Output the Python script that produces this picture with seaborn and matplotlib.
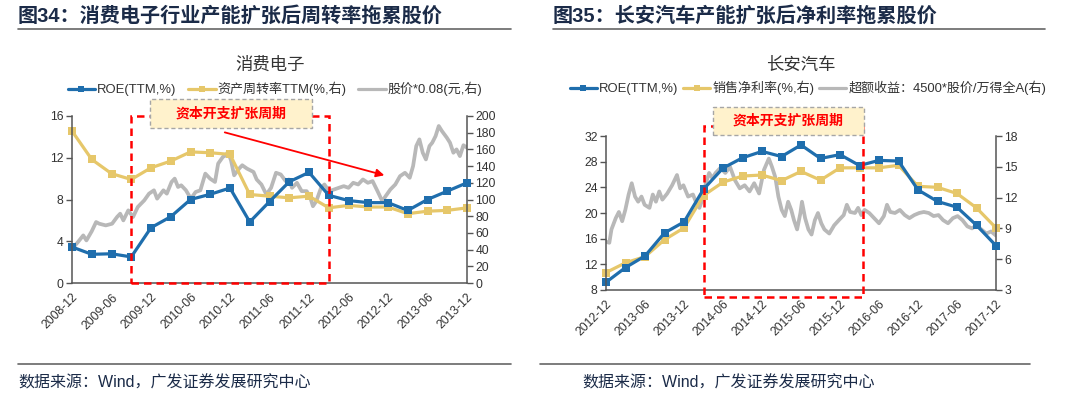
import matplotlib
matplotlib.use("Agg")
import matplotlib.pyplot as plt
import seaborn as sns
from matplotlib.patches import Rectangle
from matplotlib.lines import Line2D

sns.set_style("white")
plt.rcParams['font.family'] = ['Liberation Sans', 'Noto Sans CJK SC', 'DejaVu Sans']

BLUE = '#1F6EAD'
GOLD = '#E6C76A'
GREY = '#B8B8B8'
NAVY = '#1B2B48'
AXC = '#555555'

# ---------- 图34 消费电子 (quarterly, 2008-12 .. 2013-12) ----------
ce_quarters = list(range(21))
ce_ticks = ['2008-12', '2009-06', '2009-12', '2010-06', '2010-12', '2011-06',
            '2011-12', '2012-06', '2012-12', '2013-06', '2013-12']
ce_roe = [3.45, 2.75, 2.8, 2.5, 5.3, 6.35, 8.0, 8.5, 9.1, 5.85, 7.8,
          9.7, 10.6, 8.4, 7.9, 7.7, 7.7, 6.95, 8.0, 8.8, 9.6]
ce_turnover = [182, 148, 131, 124, 138, 146, 157, 156, 154, 106, 104,
               102, 104, 90, 93, 91, 91, 83, 86, 87, 90]
# price*0.08, position in quarters after 2008-12
ce_price_q = [0.0, 0.08, 0.3, 0.57, 0.73, 1.0, 1.22, 1.38, 1.71, 2.03, 2.28, 2.44, 2.6, 2.85,
              3.09, 3.33, 3.66, 3.9, 4.15, 4.31, 4.63, 4.8, 5.04, 5.2, 5.37, 5.53, 5.77,
              6.02, 6.26, 6.5, 6.75, 6.99, 7.24, 7.4, 7.64, 7.8, 7.89, 8.05, 8.21, 8.46,
              8.62, 8.86, 9.19, 9.35, 9.59, 9.84, 10.08, 10.33, 10.57, 10.82, 10.98, 11.14,
              11.39, 11.63, 11.88, 12.04, 12.2, 12.37, 12.61, 12.78, 13.02, 13.27, 13.51,
              13.76, 14.0, 14.24, 14.49, 14.73, 14.98, 15.22, 15.47, 15.71, 15.88, 16.12,
              16.37, 16.61, 16.86, 17.1, 17.27, 17.43, 17.59, 17.76, 17.92, 18.1, 18.24,
              18.41, 18.57, 18.73, 18.98, 19.14, 19.31, 19.47, 19.64, 19.82, 20.0]
ce_price = [42, 43, 49, 57, 51, 62, 73, 71, 69, 71, 79, 83, 75, 87,
            79, 91, 99, 107, 111, 101, 111, 107, 121, 125, 115, 117, 111,
            101, 109, 111, 131, 125, 121, 143, 151, 153, 157, 147, 129, 137,
            141, 137, 133, 124, 118, 106, 114, 132, 130, 122, 124, 114,
            120, 110, 110, 104, 92, 98, 114, 118, 110, 112, 114,
            116, 114, 120, 118, 124, 120, 122, 110, 98, 104, 112,
            118, 128, 132, 126, 140, 164, 172, 156, 148, 164, 168,
            176, 188, 182, 174, 168, 156, 160, 152, 165, 162]

# ---------- 图35 长安汽车 (quarterly, 2012-12 .. 2017-12) ----------
ca_quarters = list(range(21))
ca_ticks = ['2012-12', '2013-06', '2013-12', '2014-06', '2014-12', '2015-06',
            '2015-12', '2016-06', '2016-12', '2017-06', '2017-12']
ca_roe = [9.2, 11.5, 13.3, 16.9, 18.6, 23.7, 27.0, 28.6, 29.6, 28.8, 30.6,
          28.5, 29.1, 27.4, 28.2, 28.1, 23.6, 21.8, 20.9, 18.1, 14.9]
ca_margin = [4.7, 5.65, 6.25, 7.9, 9.05, 12.2, 13.5, 14.1, 14.2, 13.65, 14.55,
             13.7, 14.9, 14.9, 14.9, 15.15, 13.1, 13.0, 12.4, 11.0, 9.05]
ca_excess_q = [0.0, 0.17, 0.28, 0.5, 0.66, 0.83, 0.99, 1.16, 1.32, 1.49, 1.65, 1.82, 1.98,
               2.23, 2.4, 2.56, 2.73, 2.89, 3.14, 3.39, 3.64, 3.8, 3.97, 4.21, 4.46, 4.63,
               4.79, 4.96, 5.12, 5.29, 5.45, 5.62, 5.87, 6.12, 6.36, 6.61, 6.86, 7.11, 7.36,
               7.6, 7.85, 8.1, 8.35, 8.51, 8.68, 8.84, 9.01, 9.17, 9.34, 9.5, 9.64, 9.8,
               9.97, 10.05, 10.21, 10.38, 10.54, 10.71, 10.87, 11.04, 11.2, 11.45, 11.7,
               11.94, 12.19, 12.35, 12.52, 12.77, 12.93, 13.09, 13.26, 13.5, 13.75, 14.0,
               14.25, 14.41, 14.58, 14.82, 15.07, 15.32, 15.56, 15.81, 16.06, 16.3, 16.55,
               16.8, 17.05, 17.29, 17.54, 17.79, 18.03, 18.28, 18.53, 18.77, 19.0, 19.25,
               19.5, 19.75, 20.0]
ca_excess = [7.7, 7.6, 8.9, 10.0, 10.6, 9.7, 10.8, 12.3, 13.4, 12.1, 11.6, 12.1, 11.3,
             11.0, 12.3, 11.6, 12.6, 11.8, 12.4, 13.2, 14.2, 12.9, 13.2, 12.1, 12.3, 11.5,
             11.0, 11.9, 13.4, 14.4, 13.9, 14.4, 14.9, 14.4, 15.0, 13.7, 12.9, 13.2, 12.6,
             13.4, 12.4, 14.7, 15.8, 15.0, 14.0, 12.1, 10.8, 10.2, 11.6, 10.8, 9.8, 8.9,
             10.5, 11.6, 10.0, 8.9, 8.4, 9.8, 10.5, 9.5, 8.9, 8.5, 9.3,
             9.8, 10.3, 11.3, 10.6, 10.5, 11.0, 10.3, 10.8, 10.5, 10.0, 9.5,
             10.2, 11.3, 10.6, 10.5, 10.8, 10.3, 10.0, 10.3, 10.5, 10.6, 10.5,
             10.2, 10.3, 9.8, 9.5, 10.0, 10.2, 9.8, 9.2, 9.0, 9.3, 8.9,
             8.5, 8.7, 8.3]

W, H = 1080, 403
fig = plt.figure(figsize=(W / 100, H / 100), dpi=100)


def fx(px):
    return px / W


def fy(py):
    return 1 - py / H


def make_panel(rect, quarters, roe, right_vals, grey_q, grey_v, ticks,
               ylim, yticks, rylim, ryticks):
    ax = fig.add_axes(rect)
    tw = ax.twinx()
    ax.set_zorder(tw.get_zorder() + 1)
    ax.patch.set_visible(False)

    sns.lineplot(x=grey_q, y=grey_v, ax=tw, color=GREY, linewidth=2.7, legend=False)
    sns.lineplot(x=quarters, y=right_vals, ax=tw, color=GOLD, linewidth=2.3, marker='s',
                 markersize=5.5, markeredgewidth=0, legend=False, clip_on=False)
    sns.lineplot(x=quarters, y=roe, ax=ax, color=BLUE, linewidth=2.3, marker='s',
                 markersize=5.5, markeredgewidth=0, legend=False, clip_on=False)

    for a in (ax, tw):
        a.set_xlim(0, 20)
        a.set_xlabel('')
        a.set_ylabel('')
        for s in a.spines.values():
            s.set_color(AXC)
            s.set_linewidth(1.1)
        a.spines['top'].set_visible(False)
    ax.spines['right'].set_visible(False)
    tw.spines['left'].set_visible(False)
    tw.spines['bottom'].set_visible(False)

    ax.set_ylim(*ylim)
    ax.set_yticks(yticks)
    tw.set_ylim(*rylim)
    tw.set_yticks(ryticks)
    ax.set_xticks(range(0, 21, 2))
    ax.set_xticklabels(ticks, rotation=45, ha='right', rotation_mode='anchor')
    for a in (ax, tw):
        a.tick_params(axis='both', direction='out', length=4, width=1, color=AXC,
                      labelsize=8.7, labelcolor='#333333', pad=2)
    tw.tick_params(axis='x', bottom=False, labelbottom=False)

    handles = [Line2D([], [], color=BLUE, lw=2.3, marker='s', ms=4, mew=0),
               Line2D([], [], color=GOLD, lw=2.3, marker='s', ms=4, mew=0),
               Line2D([], [], color=GREY, lw=2.3)]
    return ax, tw, handles


# ---------------- left panel ----------------
ax1, tw1, h1 = make_panel([fx(72), fy(283), fx(395), 167 / H], ce_quarters, ce_roe,
                          ce_turnover, ce_price_q, ce_price, ce_ticks,
                          (0, 16), range(0, 17, 4), (0, 200), range(0, 201, 20))
fig.legend(h1, ['ROE(TTM,%)', '资产周转率TTM(%,右)', '股价*0.08(元,右)'], loc='center',
           bbox_to_anchor=(fx(275), fy(89)), ncol=3, frameon=False, fontsize=9.4,
           handlelength=2.1, handletextpad=0.15, columnspacing=0.9, labelcolor='#333333')

ax1.add_patch(Rectangle((3, 0), 10, 16, fill=False, ec='red', lw=1.8,
                        ls=(0, (3, 2)), clip_on=False, zorder=6))
ax1.annotate('', xy=(15.95, 10.25), xytext=(7.6, 14.5),
             arrowprops=dict(arrowstyle='-|>', color='red', lw=1.3, mutation_scale=12))

# ---------------- right panel ----------------
ax2, tw2, h2 = make_panel([fx(606), fy(290), fx(390), 154 / H], ca_quarters, ca_roe,
                          ca_margin, ca_excess_q, ca_excess, ca_ticks,
                          (8, 32), range(8, 33, 4), (3, 18), range(3, 19, 3))
fig.legend(h2, ['ROE(TTM,%)', '销售净利率(%,右)', '超额收益：4500*股价/万得全A(右)'],
           loc='center', bbox_to_anchor=(fx(808), fy(88)), ncol=3, frameon=False,
           fontsize=9.4, handlelength=2.1, handletextpad=0.15, columnspacing=0.35,
           labelcolor='#333333')

ax2.add_patch(Rectangle((5, 6.96), 8.2, 26.64, fill=False, ec='red', lw=1.8,
                        ls=(0, (3, 2)), clip_on=False, zorder=6))

# annotation boxes "资本开支扩张周期"
for (bx, by, bw, bh) in [(150, 99, 162, 29), (713, 107, 151, 28)]:
    fig.patches.append(Rectangle((fx(bx), fy(by + bh)), bw / W, bh / H,
                                 transform=fig.transFigure, fc='#FFF2CC', ec='#A6A6A6',
                                 lw=1, ls=(0, (3, 2)), zorder=8))
    fig.text(fx(bx + bw / 2), fy(by + bh / 2), '资本开支扩张周期', color='red',
             fontsize=10, fontweight='bold', ha='center', va='center', zorder=9)

# chart titles
fig.text(fx(270), fy(65), '消费电子', fontsize=12.5, ha='center', va='center', color='#333333')
fig.text(fx(801), fy(65), '长安汽车', fontsize=12.5, ha='center', va='center', color='#333333')

# headers, rules and footers
fig.text(fx(18), fy(16), '图34：消费电子行业产能扩张后周转率拖累股价', fontsize=14.5,
         fontweight='bold', color=NAVY, ha='left', va='center')
fig.text(fx(553), fy(16), '图35：长安汽车产能扩张后净利率拖累股价', fontsize=14.5,
         fontweight='bold', color=NAVY, ha='left', va='center')
for (x0, x1, y) in [(18, 511, 29), (553, 1045, 29), (18, 511, 364), (540, 1030, 364)]:
    fig.add_artist(Line2D([fx(x0), fx(x1)], [fy(y), fy(y)], color='#666666', lw=1.2))
fig.text(fx(18), fy(383), '数据来源：Wind，广发证券发展研究中心', fontsize=11.5,
         color=NAVY, ha='left', va='center')
fig.text(fx(582), fy(383), '数据来源：Wind，广发证券发展研究中心', fontsize=11.5,
         color=NAVY, ha='left', va='center')

fig.savefig('out.png', dpi=100)
